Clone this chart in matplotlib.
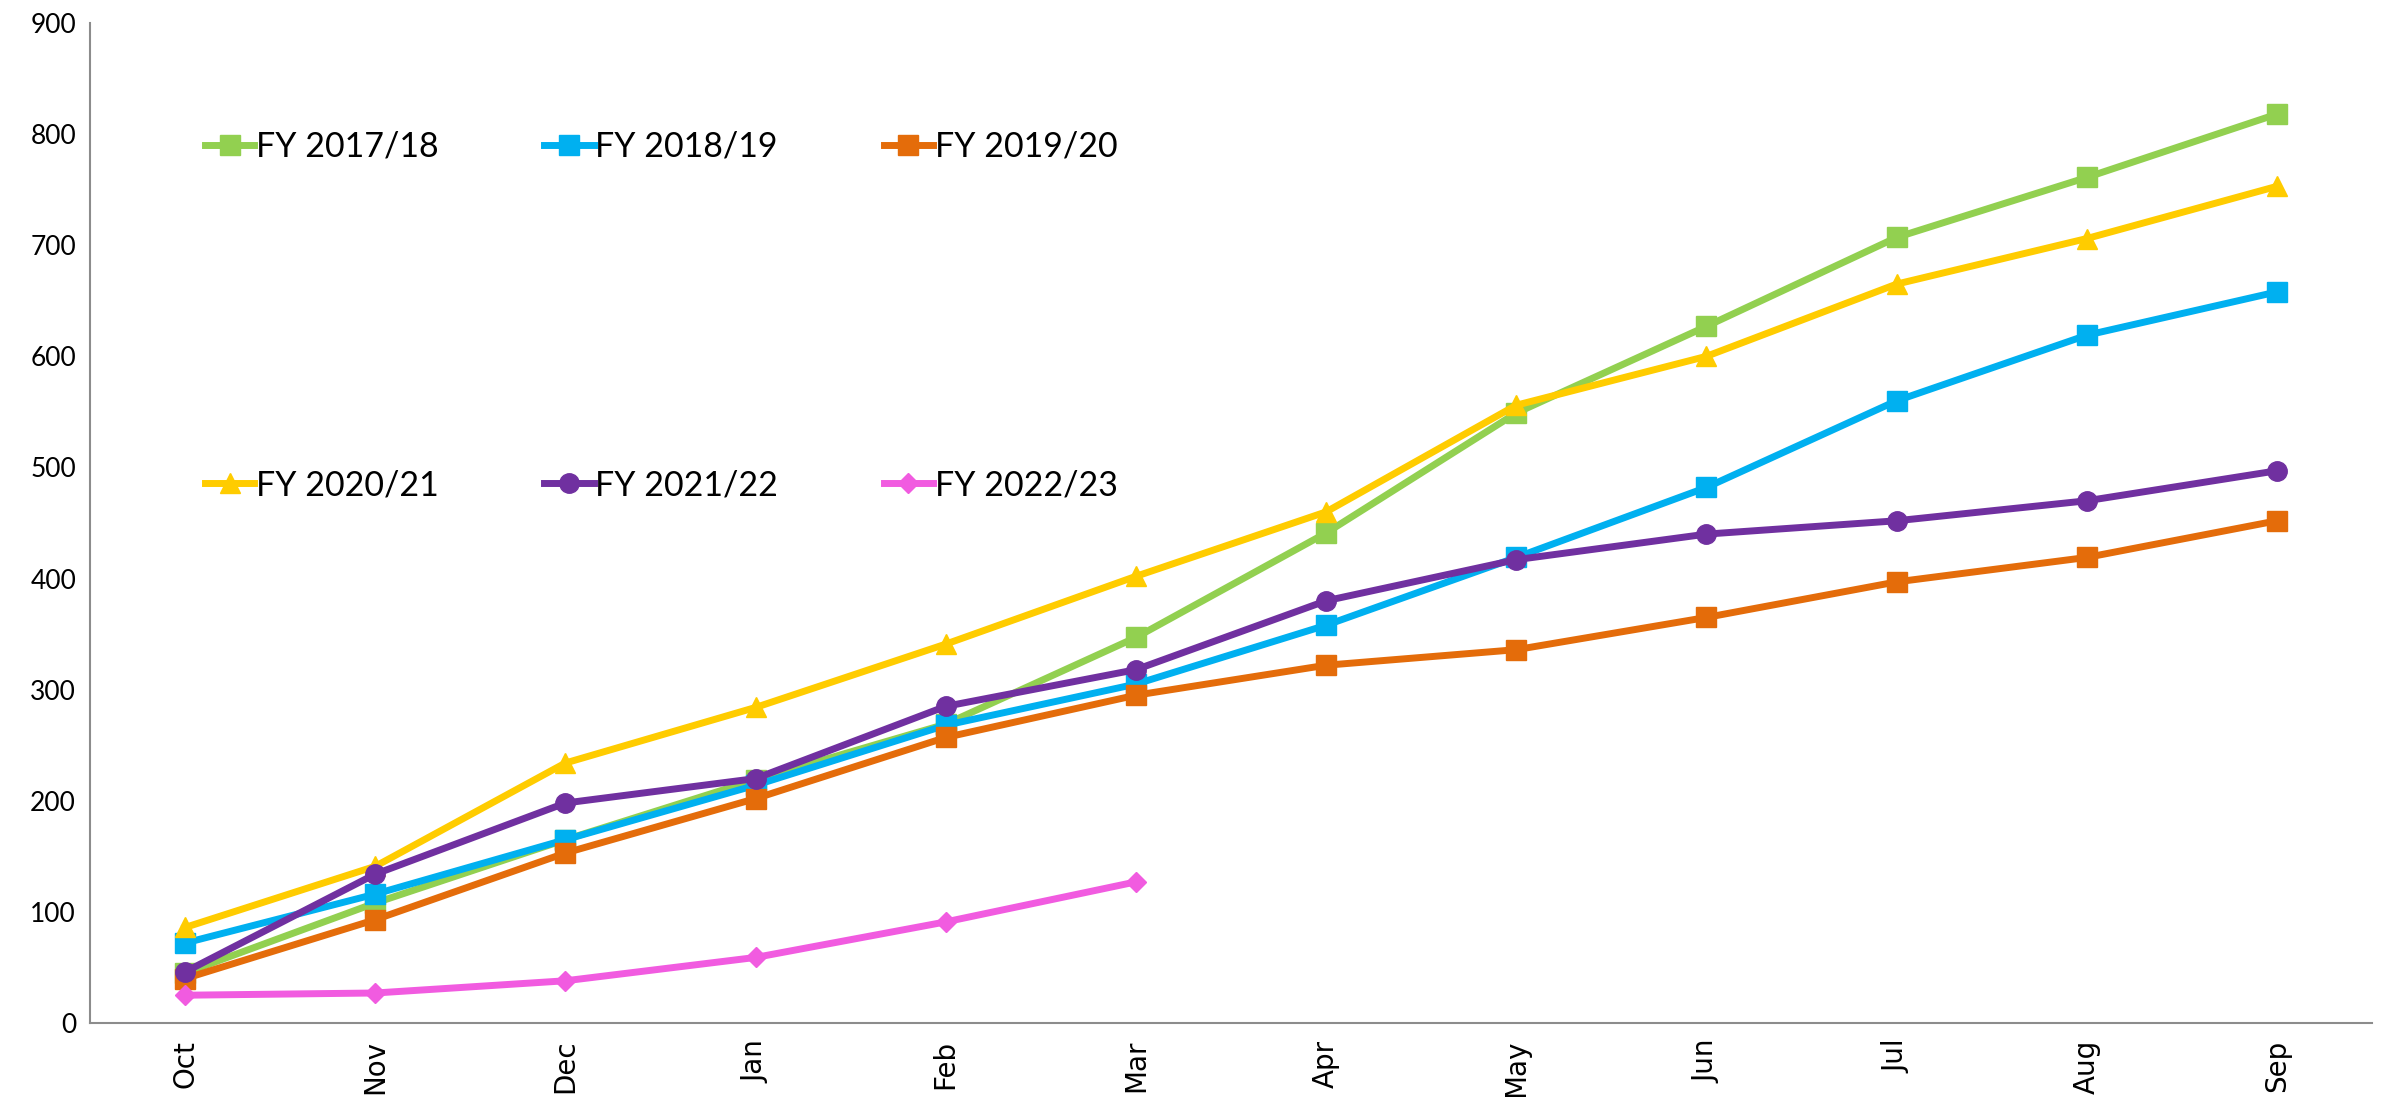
import matplotlib
matplotlib.use("Agg")
import matplotlib.pyplot as plt

months = ["Oct", "Nov", "Dec", "Jan", "Feb", "Mar", "Apr", "May", "Jun", "Jul", "Aug", "Sep"]

fy_1718 = [45, 108, 165, 219, 269, 347, 441, 549, 627, 707, 761, 818]
fy_1819 = [72, 116, 165, 214, 268, 305, 358, 419, 482, 560, 619, 658]
fy_1920 = [40, 93, 153, 202, 257, 295, 322, 336, 365, 397, 419, 452]
fy_2021 = [86, 141, 234, 284, 341, 402, 460, 556, 600, 665, 706, 753]
fy_2122 = [46, 134, 198, 220, 285, 318, 380, 417, 440, 452, 470, 497]
fy_2223 = [25, 27, 38, 59, 91, 127]

series = [
    ("FY 2017/18", fy_1718, "#92D050", "s", 14),
    ("FY 2018/19", fy_1819, "#00B0F0", "s", 14),
    ("FY 2019/20", fy_1920, "#E46C0A", "s", 14),
    ("FY 2020/21", fy_2021, "#FFCC00", "^", 14),
    ("FY 2021/22", fy_2122, "#7030A0", "o", 14),
    ("FY 2022/23", fy_2223, "#F15BE0", "D", 10),
]

fig = plt.figure(figsize=(23.81, 10.97), dpi=100)
ax = fig.add_axes([90 / 2381, 1 - 1023 / 1097, (2372 - 90) / 2381, (1023 - 23) / 1097])

handles = []
for label, vals, col, mk, ms in series:
    h, = ax.plot(range(len(vals)), vals, color=col, lw=5, marker=mk, ms=ms,
                 label=label, solid_joinstyle="miter")
    handles.append(h)

ax.set_xlim(-0.5, 11.5)
ax.set_ylim(0, 900)
ax.set_yticks(range(0, 901, 100))
ax.set_xticks(range(len(months)))
ax.set_xticklabels(months, rotation=90, fontsize=20, family="DejaVu Sans")
for t in ax.get_yticklabels():
    t.set_fontsize(19)
    t.set_family("Lato")
ax.tick_params(length=0, pad=10)
ax.tick_params(axis="x", pad=12)

for s in ["top", "right"]:
    ax.spines[s].set_visible(False)
for s in ["left", "bottom"]:
    ax.spines[s].set_color("#8C8C8C")
    ax.spines[s].set_linewidth(1.5)

# legend laid out column-wise: reorder so rows read 17/18,18/19,19/20 then 20/21,21/22,22/23
order = [0, 3, 1, 4, 2, 5]
leg = fig.legend([handles[i] for i in order], [series[i][0] for i in order],
                 ncol=3, frameon=False, loc="upper left",
                 bbox_to_anchor=(205 / 2381, 1 - 131 / 1097),
                 prop={"family": "Lato", "size": 24.5},
                 handlelength=1.45, handletextpad=0.05, columnspacing=3.1,
                 labelspacing=9.0, borderpad=0, borderaxespad=0)

fig.savefig("out.png", dpi=100)
